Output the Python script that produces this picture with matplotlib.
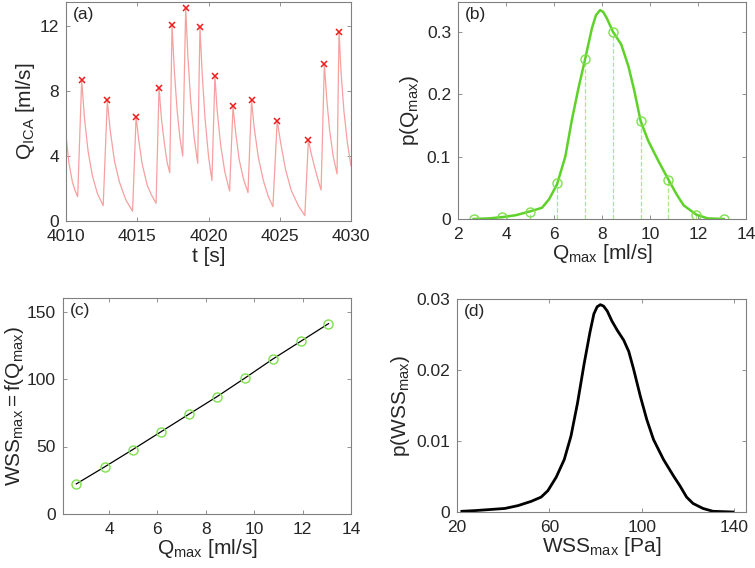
import numpy as np
import matplotlib as mpl
mpl.use('Agg')
import matplotlib.pyplot as plt

mpl.rcParams['font.family'] = 'Liberation Sans'
mpl.rcParams['mathtext.fontset'] = 'custom'
mpl.rcParams['mathtext.rm'] = 'Liberation Sans'
mpl.rcParams['mathtext.it'] = 'Liberation Sans'
mpl.rcParams['xtick.direction'] = 'in'
mpl.rcParams['ytick.direction'] = 'in'
mpl.rcParams['xtick.top'] = True
mpl.rcParams['ytick.right'] = True

# (a) flow rate time series: vertices
t_flow = [4010.0, 4010.2, 4010.45, 4010.65, 4010.82,
          4011.1, 4011.3, 4011.55, 4011.85, 4012.2, 4012.61,
          4012.9, 4013.1, 4013.4, 4013.75, 4014.2, 4014.67,
          4014.92, 4015.1, 4015.35, 4015.7, 4016.0, 4016.32,
          4016.53, 4016.7, 4016.9, 4017.1, 4017.28,
          4017.44, 4017.6, 4017.8, 4018.0, 4018.19,
          4018.40, 4018.55, 4018.75, 4019.0, 4019.24,
          4019.40, 4019.55, 4019.75, 4020.0, 4020.24,
          4020.45, 4020.6, 4020.85, 4021.15, 4021.48,
          4021.72, 4021.9, 4022.15, 4022.45, 4022.77,
          4023.02, 4023.2, 4023.5, 4023.85, 4024.2, 4024.52,
          4024.82, 4025.05, 4025.4, 4025.8, 4026.3, 4026.76,
          4027.01, 4027.2, 4027.45, 4027.7, 4027.9,
          4028.13, 4028.3, 4028.5, 4028.75, 4029.02,
          4029.16, 4029.3, 4029.5, 4029.75, 4030.0]
q_flow = [5.3, 3.6, 2.4, 1.85, 1.5,
          8.7, 6.3, 4.3, 2.8, 1.7, 0.95,
          7.43, 5.6, 3.7, 2.4, 1.3, 0.6,
          6.44, 5.0, 3.5, 2.2, 1.6, 1.09,
          8.21, 6.3, 4.8, 3.6, 2.98,
          12.1, 9.3, 6.8, 5.1, 4.01,
          13.13, 10.2, 7.4, 5.1, 3.56,
          11.95, 9.2, 6.4, 4.0, 2.49,
          8.93, 6.9, 4.7, 3.0, 1.85,
          7.06, 5.5, 3.8, 2.6, 1.75,
          7.43, 5.8, 3.9, 2.5, 1.5, 0.88,
          6.19, 4.9, 3.2, 1.9, 0.95, 0.33,
          4.98, 4.2, 3.3, 2.5, 1.91,
          9.67, 7.5, 5.6, 4.0, 2.9,
          11.65, 9.2, 6.8, 4.8, 3.4]
t_peak = [4011.1, 4012.9, 4014.92, 4016.53, 4017.44, 4018.40, 4019.40,
          4020.45, 4021.72, 4023.02, 4024.82, 4027.01, 4028.13, 4029.16]
q_peak = [8.70, 7.43, 6.44, 8.21, 12.1, 13.13, 11.95,
          8.93, 7.06, 7.43, 6.19, 4.98, 9.67, 11.65]

# (b) pdf of Q_max
q_pdf_x = [2.65, 3.3, 3.83, 4.4, 4.98, 5.5, 5.8, 6.13, 6.47, 6.75, 7.02, 7.3,
           7.58, 7.75, 7.92, 8.05, 8.2, 8.46, 8.8, 9.1, 9.35, 9.61, 9.93, 10.35,
           10.77, 11.1, 11.4, 11.93, 12.4, 13.07]
q_pdf_y = [0, 0.001, 0.003, 0.006, 0.012, 0.018, 0.032, 0.056, 0.1, 0.16, 0.21,
           0.257, 0.306, 0.327, 0.335, 0.332, 0.322, 0.300, 0.280, 0.245, 0.205,
           0.157, 0.125, 0.093, 0.063, 0.04, 0.022, 0.007, 0.001, 0]
q_bins = [2.65, 3.83, 4.98, 6.13, 7.30, 8.46, 9.61, 10.77, 11.93, 13.07]
p_bins = [0.0, 0.003, 0.012, 0.057, 0.257, 0.300, 0.157, 0.063, 0.007, 0.0]

# (c) WSS_max as function of Q_max
wss_bins = [22.3, 35.0, 47.7, 60.7, 73.9, 86.9, 100.6, 114.8, 128.0, 141.0]

# (d) pdf of WSS_max
wss_x = [22.1, 27.9, 40.7, 46.4, 52.1, 56.4, 59.3, 62.9, 66.4, 69.3, 72.1, 75.0,
         77.5, 79.2, 80.6, 82.0, 83.4, 85.0, 87.0, 89.3, 92.1, 94.3, 96.4, 99.3,
         102.1, 105.0, 109.3, 113.6, 116.4, 119.3, 122.1, 126.4, 130.7, 139.3]
wss_p = [0.0001, 0.0002, 0.0005, 0.0009, 0.0015, 0.0021, 0.003, 0.0049, 0.0074,
         0.0107, 0.0153, 0.0209, 0.0253, 0.0279, 0.0289, 0.0292, 0.029, 0.0283,
         0.0269, 0.0256, 0.0242, 0.0226, 0.0201, 0.0163, 0.013, 0.0102, 0.0074,
         0.0051, 0.0037, 0.0021, 0.0012, 0.0005, 0.0001, 0.0]

W, H = 755, 568
fig = plt.figure(figsize=(W / 100, H / 100), dpi=100)


def px_axes(left, right, top, bottom):
    return fig.add_axes([left / W, (H - bottom) / H, (right - left) / W, (bottom - top) / H])


def style(ax, label):
    for s in ax.spines.values():
        s.set_color('#808080')
        s.set_linewidth(0.8)
    ax.tick_params(colors='#808080', labelcolor='#262626', labelsize=12.5, length=3, width=0.6)
    ax.tick_params(axis='x', pad=6)
    ax.tick_params(axis='y', pad=5)
    ax.text(0.025, 0.975, label, transform=ax.transAxes, va='top', ha='left',
            fontsize=12.5, color='#262626')


green = '#5fd22a'
lab_kw = dict(fontsize=15, color='#262626')

ax1 = px_axes(66, 351, 2, 221)
ax1.plot(t_flow, q_flow, color='#f7a0a0', lw=0.9)
ax1.plot(t_peak, q_peak, 'x', color='#ee1c1c', ms=4.5, mew=1.1)
ax1.set_xlim(4010, 4030)
ax1.set_ylim(0, 13.5)
ax1.set_xticks([4010, 4015, 4020, 4025, 4030])
ax1.set_yticks([0, 4, 8, 12])
ax1.set_xlabel('t [s]', labelpad=2, **lab_kw)
ax1.set_ylabel(r'$\mathrm{Q_{ICA}}$ [ml/s]', labelpad=2, **lab_kw)
style(ax1, '(a)')

ax2 = px_axes(458, 746, 2, 219)
ax2.vlines(q_bins, 0, p_bins, colors='#a8e888', linestyles='--', lw=0.9)
ax2.plot(q_pdf_x, q_pdf_y, color=green, lw=1.8)
ax2.plot(q_bins, p_bins, 'o', mfc='none', mec='#7ee04e', ms=6.5, mew=1.0)
ax2.set_xlim(2, 14)
ax2.set_ylim(0, 0.348)
ax2.set_xticks([2, 4, 6, 8, 10, 12, 14])
ax2.set_yticks([0, 0.1, 0.2, 0.3])
ax2.set_yticklabels(['0', '0.1', '0.2', '0.3'])
ax2.set_xlabel(r'$\mathrm{Q_{max}}$ [ml/s]', labelpad=0, **lab_kw)
ax2.set_ylabel(r'$\mathrm{p(Q_{max})}$', **lab_kw)
style(ax2, '(b)')

ax3 = px_axes(63, 351, 298, 514)
ax3.plot(q_bins, wss_bins, color='black', lw=0.9)
ax3.plot(q_bins, wss_bins, 'o', mfc='none', mec='#7ee04e', ms=6.5, mew=1.0)
ax3.set_xlim(2.1, 14)
ax3.set_ylim(0, 160)
ax3.set_xticks([4, 6, 8, 10, 12, 14])
ax3.set_yticks([0, 50, 100, 150])
ax3.set_xlabel(r'$\mathrm{Q_{max}}$ [ml/s]', labelpad=0, **lab_kw)
ax3.set_ylabel(r'$\mathrm{WSS_{max}{=}f(Q_{max})}$', labelpad=1, **lab_kw)
style(ax3, '(c)')

ax4 = px_axes(457, 746, 299, 512)
ax4.plot(wss_x, wss_p, color='black', lw=2)
ax4.set_xlim(20, 145)
ax4.set_ylim(0, 0.03)
ax4.set_xticks([20, 60, 100, 140])
ax4.set_yticks([0, 0.01, 0.02, 0.03])
ax4.set_yticklabels(['0', '0.01', '0.02', '0.03'])
ax4.set_xlabel(r'$\mathrm{WSS_{max}}$ [Pa]', labelpad=0, **lab_kw)
ax4.set_ylabel(r'$\mathrm{p(WSS_{max})}$', labelpad=3, **lab_kw)
style(ax4, '(d)')

fig.savefig('out.png', dpi=100)
